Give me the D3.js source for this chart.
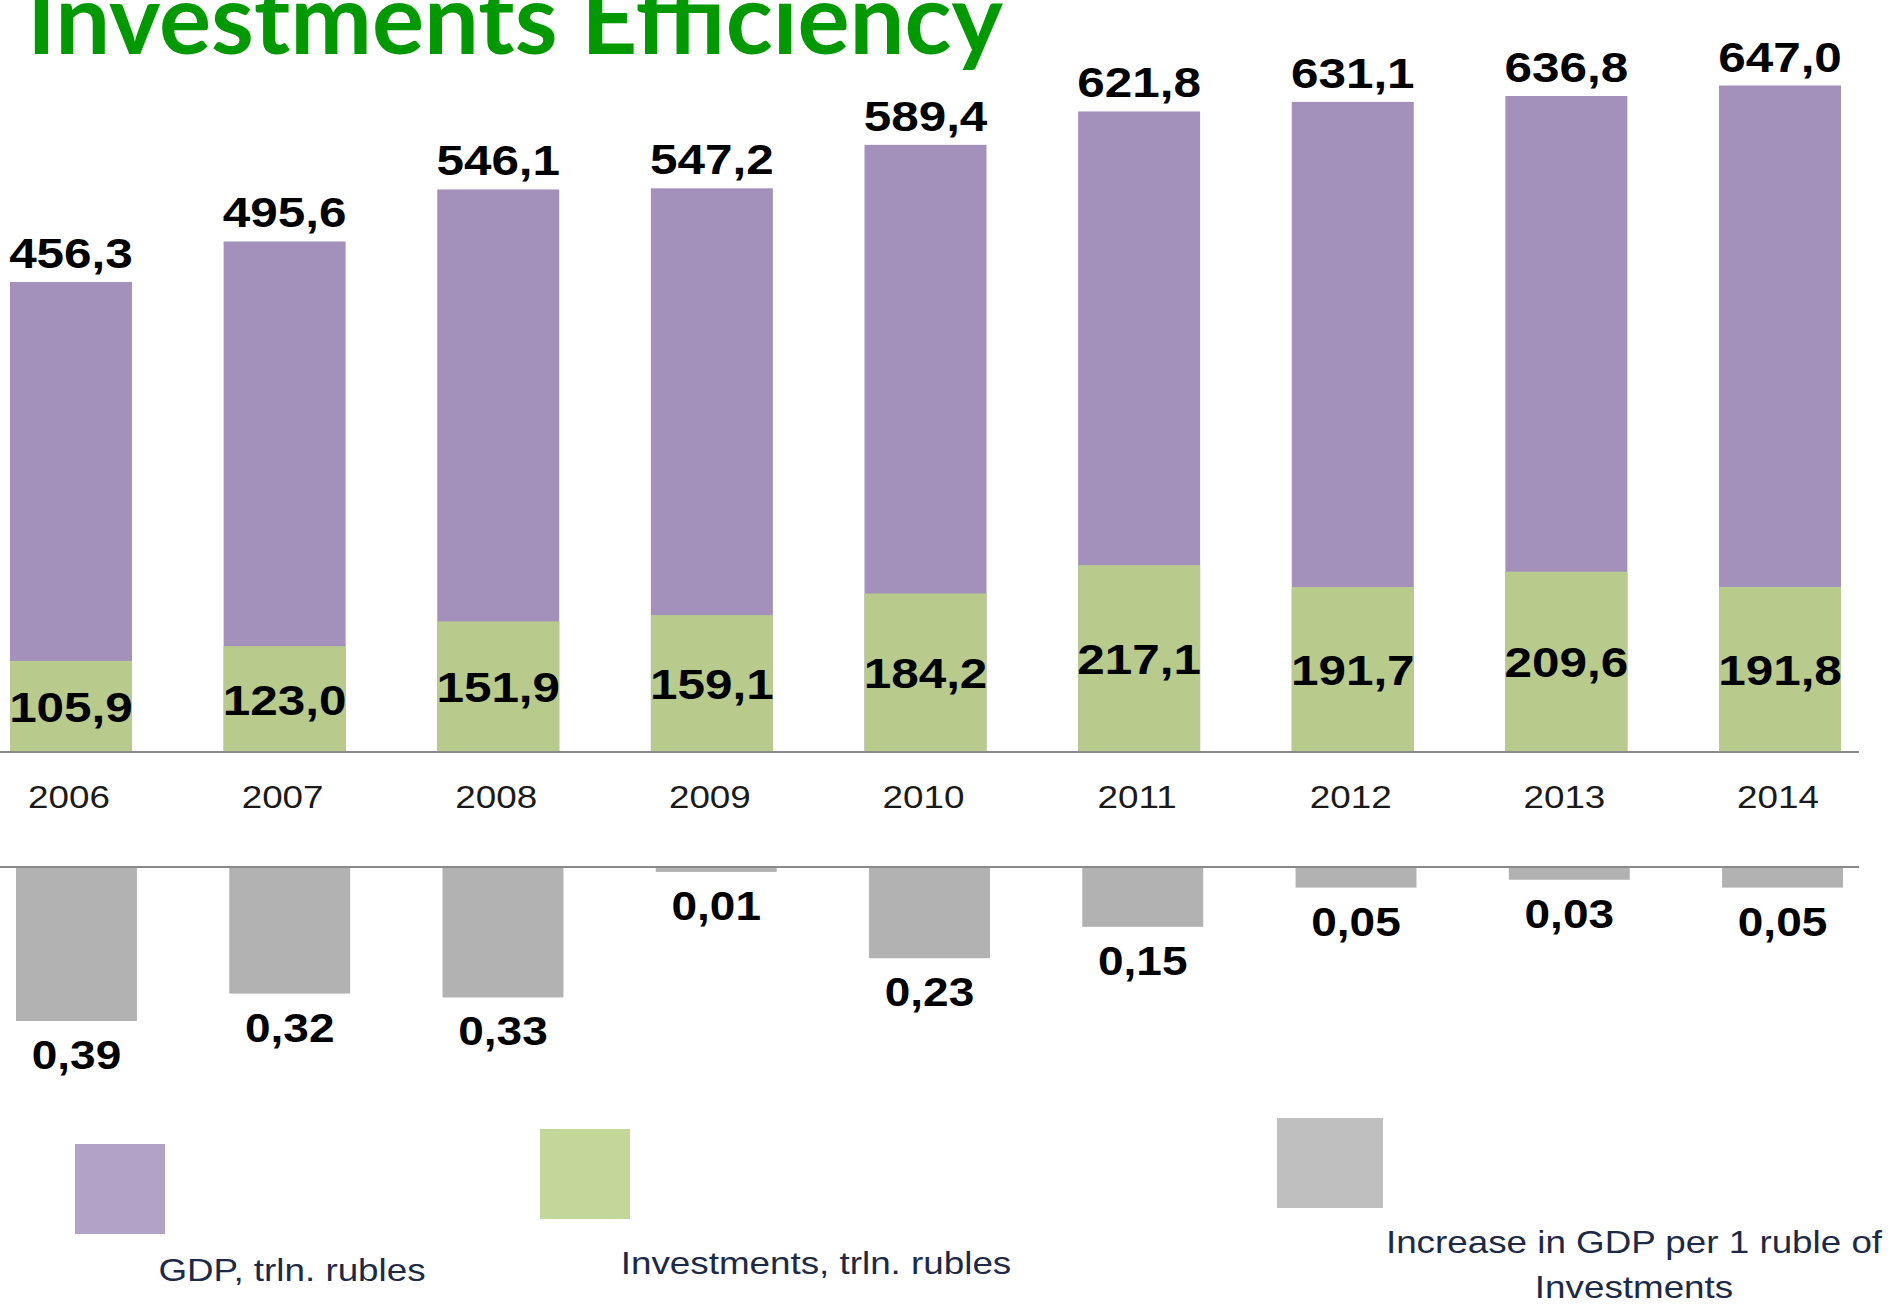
<!DOCTYPE html>
<html>
<head>
<meta charset="utf-8">
<script src="https://cdn.jsdelivr.net/npm/d3@7"></script>
<style>
  html, body { margin: 0; padding: 0; background: #fff; }
  svg { display: block; }
  .title { font-family: Lato, "Open Sans", sans-serif; font-weight: 700; fill: #009900; }
  .val { font-family: "Liberation Sans", Arial, sans-serif; font-weight: 700; fill: #000; }
  .year { font-family: "Liberation Sans", Arial, sans-serif; fill: #1a1a1a; }
  .legend-text { font-family: "Liberation Sans", Arial, sans-serif; fill: #1c2a48; }
</style>
</head>
<body>
<div id="chart"></div>
<script>
// data
const years = ["2006", "2007", "2008", "2009", "2010", "2011", "2012", "2013", "2014"];
const gdp = [456.3, 495.6, 546.1, 547.2, 589.4, 621.8, 631.1, 636.8, 647.0];
const investments = [105.9, 123.0, 151.9, 159.1, 184.2, 217.1, 191.7, 209.6, 191.8];
const gdpPerRuble = [0.39, 0.32, 0.33, 0.01, 0.23, 0.15, 0.05, 0.03, 0.05];
const legendLabels = [
  ["GDP, trln. rubles"],
  ["Investments, trln. rubles"],
  ["Increase in GDP per 1 ruble of", "Investments"]
];

const width = 1892, height = 1304;
const stretch = 1.15; // the source text is a bit wide

const colors = {
  gdp: "#a391bc", inv: "#b8cb8d", inc: "#b2b2b2",
  gdpKey: "#b3a2c7", invKey: "#c4d79b", incKey: "#bfbfbf"
};

const ru = d3.formatLocale({ decimal: ",", thousands: " ", grouping: [3], currency: ["", ""] });
const f1 = ru.format(".1f"), f2 = ru.format(".2f");

const svg = d3.select("#chart").append("svg")
  .attr("width", width)
  .attr("height", height);

// x scales, top chart and bottom chart are slightly off from each other
const x = d3.scaleBand().domain(years).range([10, 1841]).paddingInner(0.429).paddingOuter(0);
const x2 = d3.scaleBand().domain(years).range([16, 1843]).paddingInner(0.433).paddingOuter(0);

// GDP and investments sit on different axes in the original
const yGdp = d3.scaleLinear().domain([0, 730]).range([752, 0]);
const yInv = d3.scaleLinear().domain([0, 874]).range([752, 0]);
const yInc = d3.scaleLinear().domain([0, 0.39]).range([868, 1021]);

function label(g, px, py, str, cls, size) {
  g.append("text")
    .attr("class", cls)
    .attr("transform", `translate(${px},${py}) scale(${stretch},1)`)
    .attr("text-anchor", "middle")
    .attr("font-size", size)
    .text(str);
}

// title (cut off at the top edge like in the source)
svg.append("text")
  .attr("class", "title")
  .attr("x", 27)
  .attr("y", 54)
  .attr("font-size", 98)
  .attr("textLength", 976)
  .attr("lengthAdjust", "spacingAndGlyphs")
  .text("Investments Efficiency");

// upper chart
const upper = svg.append("g");

upper.selectAll("rect.gdp")
  .data(years)
  .enter().append("rect")
  .attr("class", "gdp")
  .attr("x", d => x(d))
  .attr("width", x.bandwidth())
  .attr("y", (d, i) => yGdp(gdp[i]))
  .attr("height", (d, i) => yGdp(0) - yGdp(gdp[i]))
  .attr("fill", colors.gdp);

upper.selectAll("rect.inv")
  .data(years)
  .enter().append("rect")
  .attr("class", "inv")
  .attr("x", d => x(d))
  .attr("width", x.bandwidth())
  .attr("y", (d, i) => yInv(investments[i]))
  .attr("height", (d, i) => yInv(0) - yInv(investments[i]))
  .attr("fill", colors.inv);

upper.append("line")
  .attr("x1", 0).attr("x2", 1859)
  .attr("y1", yGdp(0)).attr("y2", yGdp(0))
  .attr("stroke", "#8a8a8a")
  .attr("stroke-width", 2);

years.forEach((yr, i) => {
  const cx = x(yr) + x.bandwidth() / 2;
  label(upper, cx, yGdp(gdp[i]) - 14, f1(gdp[i]), "val", 43);
  const mid = (yInv(investments[i]) + yInv(0)) / 2;
  label(upper, cx, mid + 15.5, f1(investments[i]), "val", 43);
  label(upper, cx - 2, 808, yr, "year", 32);
});

// lower chart
const lower = svg.append("g");

lower.selectAll("rect")
  .data(years)
  .enter().append("rect")
  .attr("x", d => x2(d))
  .attr("width", x2.bandwidth())
  .attr("y", yInc(0))
  .attr("height", (d, i) => yInc(gdpPerRuble[i]) - yInc(0))
  .attr("fill", colors.inc);

lower.append("line")
  .attr("x1", 0).attr("x2", 1859)
  .attr("y1", yInc(0) - 1).attr("y2", yInc(0) - 1)
  .attr("stroke", "#8a8a8a")
  .attr("stroke-width", 2);

years.forEach((yr, i) => {
  const cx = x2(yr) + x2.bandwidth() / 2;
  label(lower, cx, yInc(gdpPerRuble[i]) + 48, f2(gdpPerRuble[i]), "val", 40);
});

// legend
const keys = [
  { fill: colors.gdpKey, x: 75, y: 1144, w: 90, h: 90, tx: 292, ty: [1281] },
  { fill: colors.invKey, x: 540, y: 1129, w: 90, h: 90, tx: 816, ty: [1274] },
  { fill: colors.incKey, x: 1277, y: 1118, w: 106, h: 90, tx: 1634, ty: [1253, 1298] }
];

const legend = svg.append("g");
keys.forEach((k, i) => {
  legend.append("rect")
    .attr("x", k.x).attr("y", k.y)
    .attr("width", k.w).attr("height", k.h)
    .attr("fill", k.fill);
  legendLabels[i].forEach((line, j) => {
    label(legend, k.tx, k.ty[j], line, "legend-text", 32);
  });
});
</script>
</body>
</html>
